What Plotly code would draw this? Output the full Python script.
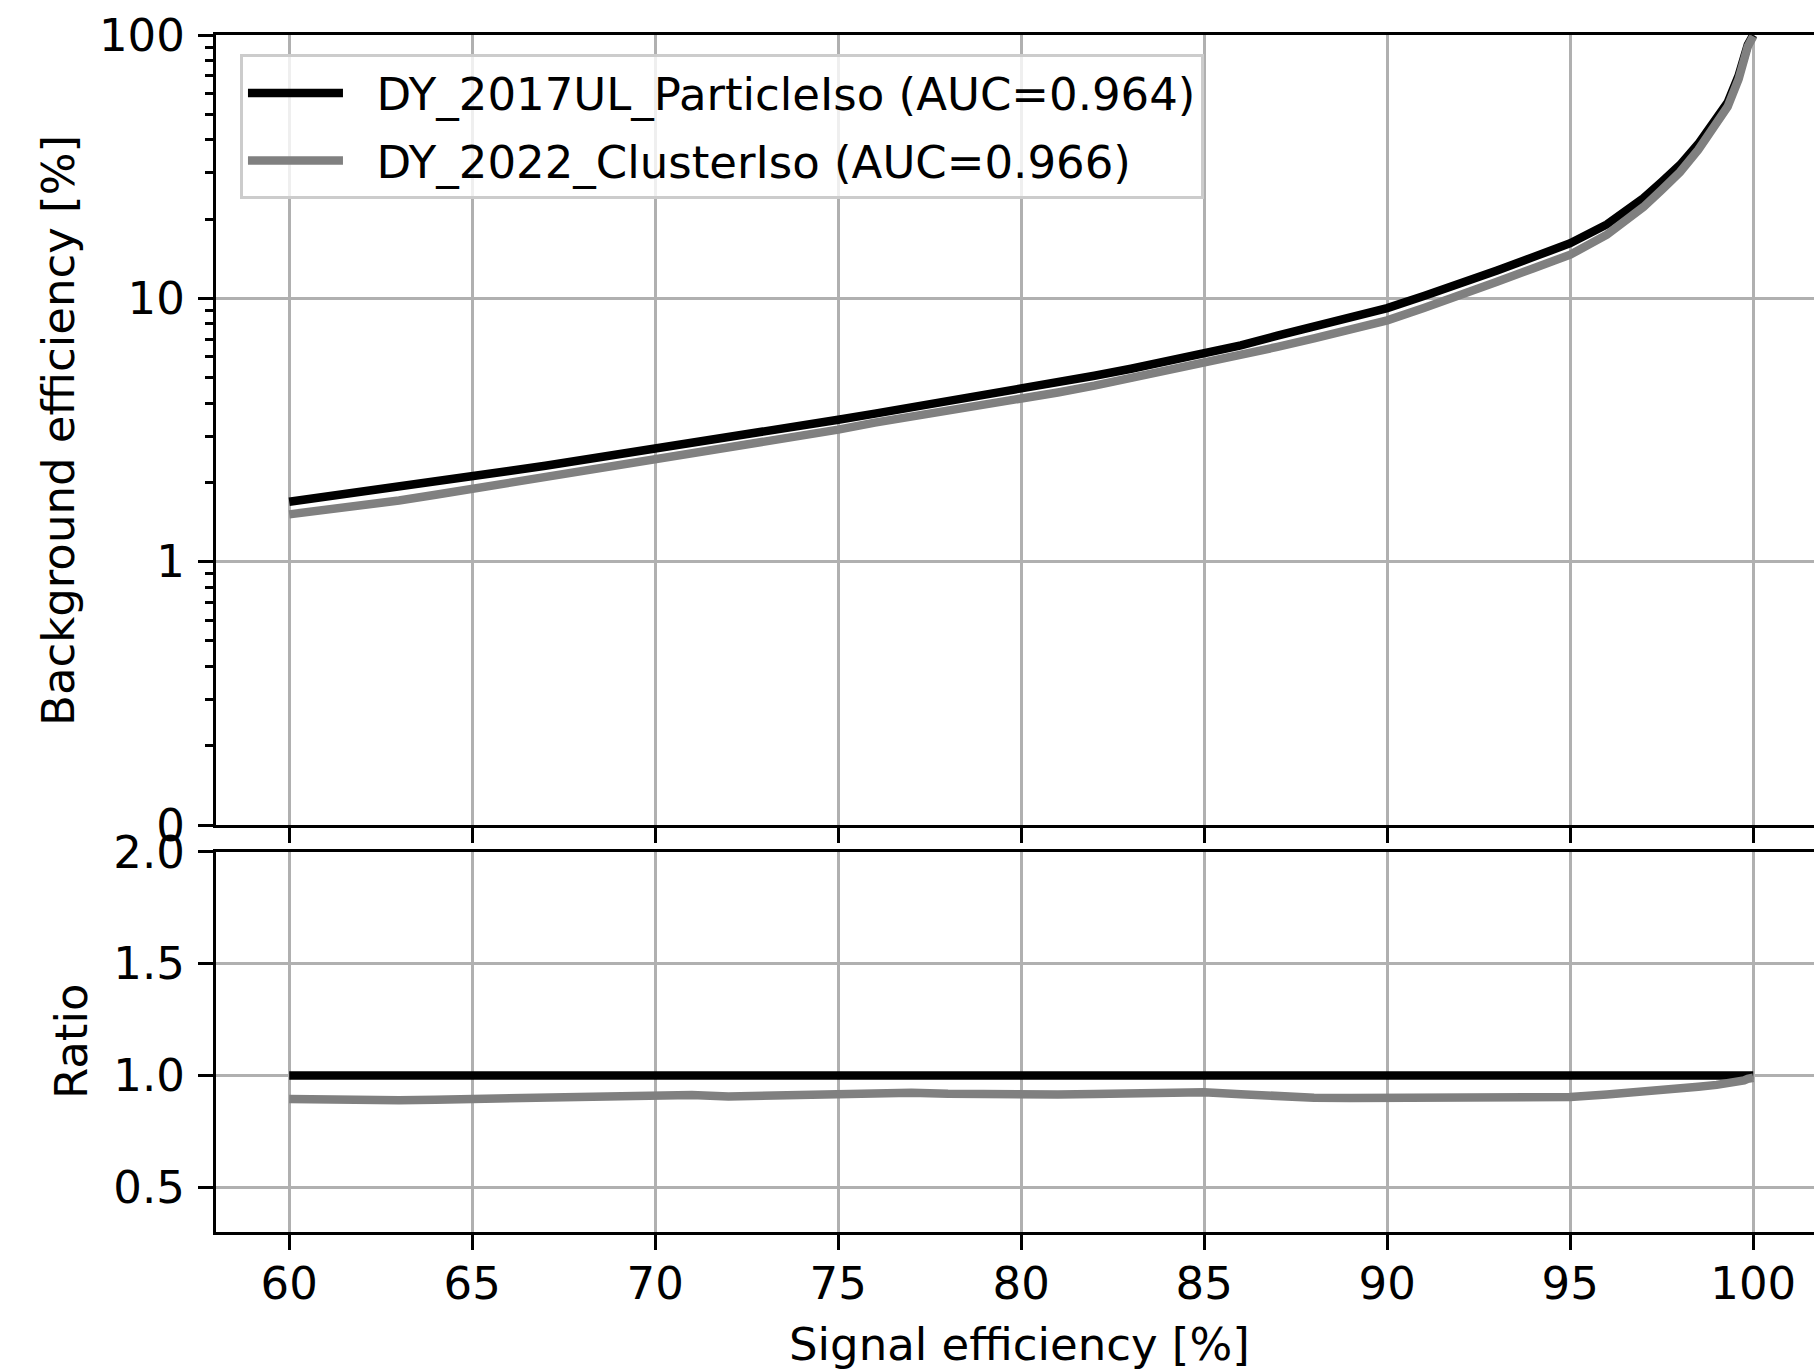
import plotly.graph_objects as go

# ---- data ----
sig_eff = [60, 61, 62, 63, 64, 65, 66, 67, 68, 69, 70, 71, 72, 73, 74, 75, 76, 77, 78, 79,
           80, 81, 82, 83, 84, 85, 86, 87, 88, 89, 90, 91, 92, 93, 94, 95, 96, 97, 97.5,
           98, 98.5, 99, 99.3, 99.6, 99.75, 99.85, 100]

bkg_2017UL = [1.69, 1.762, 1.837, 1.920, 2.013, 2.11, 2.211, 2.315, 2.429, 2.551, 2.68,
              2.822, 2.972, 3.129, 3.290, 3.46, 3.648, 3.847, 4.060, 4.289, 4.53, 4.799,
              5.082, 5.403, 5.765, 6.15, 6.63, 7.22, 7.82, 8.48, 9.18, 10.20, 11.33, 12.75,
              14.37, 16.2, 19.08, 24.0, 27.7, 32.1, 38.6, 47.6, 55.4, 70.1, 81.6, 91.8, 100.0]

# ratio DY_2022 / DY_2017UL
ratio_2022 = [0.895, 0.892, 0.888, 0.889, 0.892, 0.895, 0.897, 0.900, 0.902, 0.904, 0.906,
              0.913, 0.906, 0.909, 0.913, 0.917, 0.925, 0.923, 0.918, 0.914, 0.914, 0.915,
              0.917, 0.920, 0.928, 0.925, 0.916, 0.906, 0.901, 0.899, 0.899, 0.901, 0.904,
              0.907, 0.905, 0.904, 0.915, 0.926, 0.932, 0.940, 0.950, 0.958, 0.964, 0.970,
              0.978, 0.985, 0.990]

bkg_2022 = [b * r for b, r in zip(bkg_2017UL, ratio_2022)]
ratio_2017 = [b / b for b in bkg_2017UL]
ratio_22 = [c / b for c, b in zip(bkg_2022, bkg_2017UL)]

label_2017 = "DY_2017UL_ParticleIso (AUC=0.964)"
label_2022 = "DY_2022_ClusterIso (AUC=0.966)"

x_ticks = [60, 65, 70, 75, 80, 85, 90, 95, 100]
y_ticks = [0.1, 1, 10, 100]
y_ticktext = ["0", "1", "10", "100"]
r_ticks = [0.5, 1.0, 1.5, 2.0]
r_ticktext = ["0.5", "1.0", "1.5", "2.0"]
minor_vals = [m * d for d in (0.1, 1, 10) for m in range(2, 10)]

BLACK = "#000000"
GREY = "#808080"
FONT = dict(family="DejaVu Sans", size=45, color="black")
LW = 3.3
GRID = "#b0b0b0"
NB = "\u00a0\u00a0"

fig = go.Figure()
fig.add_trace(go.Scatter(x=sig_eff, y=bkg_2017UL, mode="lines", name=NB + label_2017,
                         legendgroup="a", line=dict(color=BLACK, width=8.5),
                         xaxis="x", yaxis="y"))
fig.add_trace(go.Scatter(x=sig_eff, y=bkg_2022, mode="lines", name=NB + label_2022,
                         legendgroup="b", line=dict(color=GREY, width=8.5),
                         xaxis="x", yaxis="y"))
fig.add_trace(go.Scatter(x=sig_eff, y=ratio_2017, mode="lines", showlegend=False,
                         line=dict(color=BLACK, width=8.5), xaxis="x2", yaxis="y2"))
fig.add_trace(go.Scatter(x=sig_eff, y=ratio_22, mode="lines", showlegend=False,
                         line=dict(color=GREY, width=8.5), xaxis="x2", yaxis="y2"))

common_x = dict(range=[58, 101.66], tickvals=x_ticks, ticks="outside", ticklen=15,
                tickwidth=LW, tickcolor="black", showline=True, linecolor="black",
                linewidth=LW, mirror=True, showgrid=True, gridcolor=GRID, gridwidth=LW,
                zeroline=False, tickfont=FONT, ticklabelstandoff=-5)

fig.update_layout(
    width=1814, height=1372,
    margin=dict(l=216, r=0, t=35, b=140),
    paper_bgcolor="white", plot_bgcolor="white",
    font=FONT,
    showlegend=True,
    xaxis=dict(domain=[0, 1], anchor="y", showticklabels=False, **common_x),
    xaxis2=dict(domain=[0, 1], anchor="y2", showticklabels=True, **common_x),
    yaxis=dict(domain=[0.34, 1.0], anchor="x", type="log", range=[-1, 2],
               tickvals=y_ticks, ticktext=y_ticktext, ticks="outside", ticklen=15,
               tickwidth=LW, tickcolor="black", showline=True, linecolor="black",
               linewidth=LW, mirror=False, showgrid=True, gridcolor=GRID, gridwidth=LW,
               zeroline=False, tickfont=FONT, ticklabelstandoff=4,
               minor=dict(tickvals=minor_vals, ticks="outside", ticklen=8,
                          tickwidth=2.5, tickcolor="black", showgrid=False)),
    yaxis2=dict(domain=[0, 0.3175], anchor="x2", range=[0.3, 2.0],
                tickvals=r_ticks, ticktext=r_ticktext, ticks="outside", ticklen=15,
                tickwidth=LW, tickcolor="black", showline=True, linecolor="black",
                linewidth=LW, mirror=False, showgrid=True, gridcolor=GRID, gridwidth=LW,
                zeroline=False, tickfont=FONT, ticklabelstandoff=4),
    legend=dict(x=0.015, y=0.984, xanchor="left", yanchor="top",
                bgcolor="rgba(255,255,255,0.8)", bordercolor="#cccccc", borderwidth=3,
                font=FONT, itemwidth=95, tracegroupgap=6),
    annotations=[
        dict(text="Background efficiency [%]", xref="paper", yref="paper",
             x=-0.0989, y=0.670, xanchor="center", yanchor="middle", textangle=-90,
             showarrow=False, font=FONT),
        dict(text="Ratio", xref="paper", yref="paper",
             x=-0.0901, y=0.1596, xanchor="center", yanchor="middle", textangle=-90,
             showarrow=False, font=FONT),
        dict(text="Signal efficiency [%]", xref="paper", yref="paper",
             x=0.503, y=-0.0936, xanchor="center", yanchor="middle",
             showarrow=False, font=FONT),
    ],
)

fig.write_html("out.html",
               config={"displayModeBar": False},
               post_script="document.body.style.margin='0';"
                           "document.body.style.overflow='hidden';")
